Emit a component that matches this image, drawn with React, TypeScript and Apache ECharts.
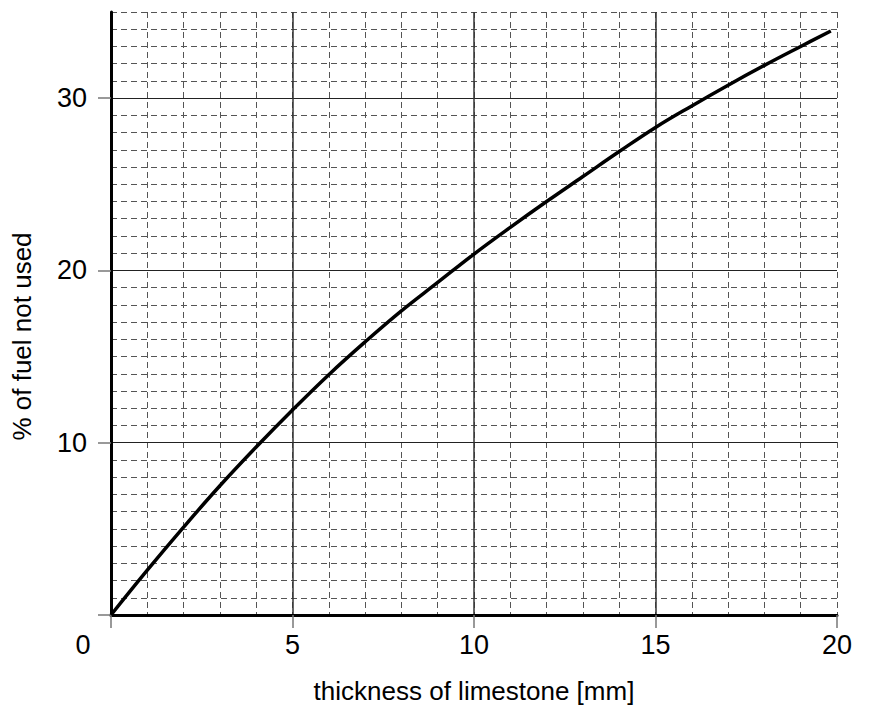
import React, { useEffect, useRef } from "react";
import * as echarts from "echarts";

const thickness = [0, 1, 2, 3, 4, 5, 6, 7, 8, 9, 10, 11, 12, 13, 14, 15, 16, 17, 18, 19, 19.83];
const fuelNotUsed = [0, 2.6, 5.1, 7.5, 9.75, 11.9, 13.95, 15.85, 17.65, 19.3, 20.95, 22.5, 24.0, 25.45, 26.9, 28.3, 29.55, 30.75, 31.9, 33.0, 33.9];

const xMajorTicks = [0, 5, 10, 15, 20];
const yMajorTicks = [0, 10, 20, 30];
const yLabelTicks = [10, 20, 30];

export default function App() {
  const ref = useRef<HTMLDivElement>(null);
  useEffect(() => {
    if (!ref.current) return;
    const chart = echarts.init(ref.current, null, { renderer: "svg" });
    const font = "'Liberation Sans', Arial, sans-serif";
    const dashed = { color: "#555", width: 1, type: [6, 4] as any };
    chart.setOption({
      animation: false,
      backgroundColor: "#fff",
      grid: { left: 111, right: 32, top: 12, bottom: 92, containLabel: false },
      xAxis: [
        {
          type: "value",
          min: 0,
          max: 20,
          interval: 1,
          position: "bottom",
          axisLine: { show: false },
          axisTick: { show: false },
          axisLabel: { show: false },
          splitLine: { show: true, showMinLine: false, lineStyle: dashed },
        },
        {
          type: "value",
          min: 0,
          max: 20,
          interval: 5,
          position: "bottom",
          name: "thickness of limestone [mm]",
          nameLocation: "middle",
          nameGap: 63,
          nameTextStyle: { fontFamily: font, fontSize: 26, color: "#000" },
          axisLine: { show: true, onZero: false, lineStyle: { color: "#000", width: 3 } },
          axisTick: { show: true, inside: false, length: 13, customValues: xMajorTicks, lineStyle: { color: "#777", width: 1.5 } },
          axisLabel: {
            margin: 16,
            fontFamily: font,
            fontSize: 27,
            color: "#000",
            formatter: (v: number) => (v === 0 ? "{z|0}" : String(v)),
            rich: { z: { fontFamily: font, fontSize: 27, color: "#000", padding: [0, 56, 0, 0] } },
          },
          splitLine: { show: true, showMinLine: false, showMaxLine: false, lineStyle: { color: "#333", width: 1.5 } },
          z: 3,
        },
      ],
      yAxis: [
        {
          type: "value",
          min: 0,
          max: 35,
          interval: 10,
          name: "% of fuel not used",
          nameLocation: "middle",
          nameGap: 76,
          nameTextStyle: { fontFamily: font, fontSize: 26, color: "#000", padding: [0, 46, 0, 0] },
          axisLine: { show: true, onZero: false, lineStyle: { color: "#000", width: 3 } },
          axisTick: { show: true, inside: false, length: 13, customValues: yMajorTicks, lineStyle: { color: "#777", width: 1.5 } },
          axisLabel: {
            margin: 24,
            fontFamily: font,
            fontSize: 27,
            color: "#000",
            customValues: yLabelTicks,
            formatter: (v: number) => (v === 0 || v === 35 ? "" : String(v)),
          },
          splitLine: { show: true, showMinLine: false, lineStyle: { color: "#222", width: 1 } },
          z: 3,
        },
        {
          type: "value",
          min: 0,
          max: 35,
          interval: 1,
          position: "left",
          offset: 0,
          axisLine: { show: false },
          axisTick: { show: false },
          axisLabel: { show: false },
          splitLine: { show: true, showMinLine: false, lineStyle: dashed },
        },
      ],
      series: [
        {
          type: "line",
          xAxisIndex: 1,
          yAxisIndex: 0,
          data: thickness.map((x, i) => [x, fuelNotUsed[i]]),
          smooth: 0.4,
          showSymbol: false,
          symbol: "none",
          lineStyle: { color: "#000", width: 3.5 },
          z: 5,
        },
      ],
    });
    return () => chart.dispose();
  }, []);
  return <div ref={ref} style={{ width: 869, height: 709, position: "absolute", left: 0, top: 0 }} />;
}
